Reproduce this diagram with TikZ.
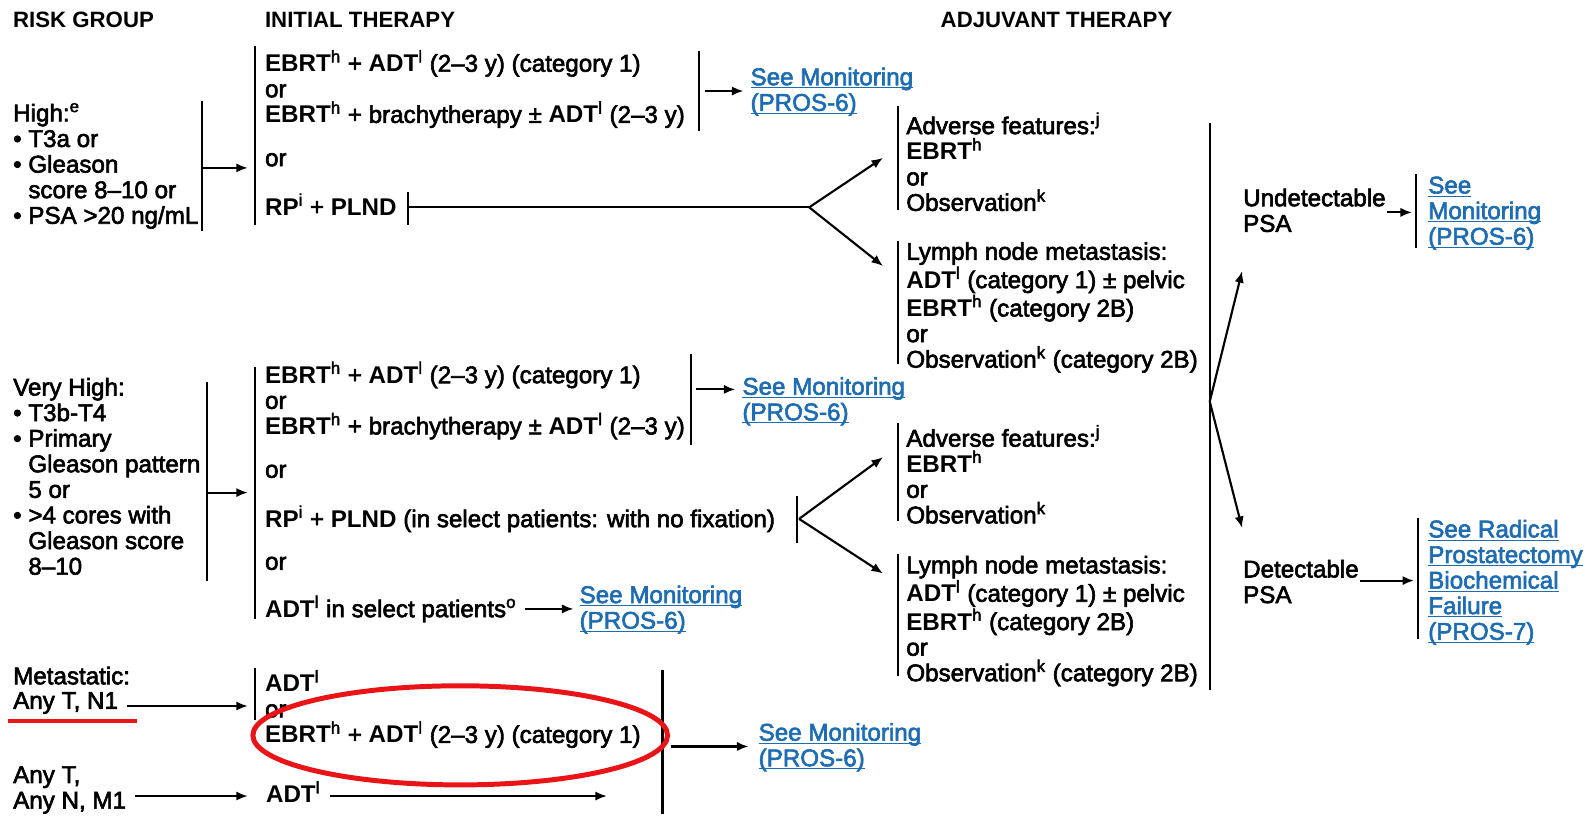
\documentclass[tikz,border=0pt]{standalone}
\usepackage{fontspec}
\setmainfont{Liberation Sans}[UprightFeatures={FakeBold=2.5}]
\usetikzlibrary{arrows.meta,positioning}
\definecolor{linkblue}{RGB}{30,108,178}
\definecolor{markred}{RGB}{232,20,24}
\newcommand{\ebrt}{\textbf{EBRT}\textsuperscript{h}}
\newcommand{\adt}{\textbf{ADT}\textsuperscript{l}}
\newcommand{\lnk}[1]{\textcolor{linkblue}{\underline{\raisebox{0pt}[\height][0pt]{#1}}}}
\newcommand{\bsp}{\phantom{• }}

\begin{document}
\begin{tikzpicture}[x=0.02cm,y=-0.02cm,>={Latex[length=6.5pt,width=5.2pt]},line width=1.2pt,
    txt/.style={anchor=west,align=left,inner sep=0pt,font=\fontsize{13.6}{14.4}\selectfont},
    head/.style={anchor=west,inner sep=0pt,font=\fontsize{12.5}{14}\selectfont\bfseries}]
    \useasboundingbox (0,0) rectangle (1568,807);

    % headers
    \node[head] (hrisk) at (12,20) {RISK GROUP};
    \node[head] (hinit) at (261,20) {INITIAL THERAPY};
    \node[head] (hadj) at (929,20) {ADJUVANT THERAPY};

    % high
    \node[txt] (high) at (12,164) {High:\textsuperscript{e}\\• T3a or\\• Gleason\\\bsp score 8–10 or\\• PSA >20 ng/mL};
    \node[txt] (hebrt) at (261,88) {\ebrt{} + \adt{} (2–3 y) (category 1)\\or\\\ebrt{} + brachytherapy ± \adt{} (2–3 y)};
    \node[txt] (hor) at (261,158) {or};
    \node[txt] (hrp) at (261,202) {\textbf{RP}\textsuperscript{i} + \textbf{PLND}};
    \node[txt] (hmon) at (741,90) {\lnk{See Monitoring}\\\lnk{(PROS-6)}};
    \node[txt] (hadv) at (895,160) {Adverse features:\textsuperscript{j}\\\ebrt\\or\\Observation\textsuperscript{k}};
    \node[txt] (hlym) at (895,304) {Lymph node metastasis:\\\adt{} (category 1) ± pelvic\\\ebrt{} (category 2B)\\or\\Observation\textsuperscript{k} (category 2B)};

    \coordinate (hbar) at (200,166);
    \coordinate (hin) at (252,166);
    \coordinate (hmonbar) at (691,90);
    \coordinate (hrpbar) at (403,205);
    \coordinate (hfork) at (800,205);
    \coordinate (hadvin) at (873,156);
    \coordinate (hlymin) at (873,263);

    \draw (200,100) -- (200,228);
    \draw (252,45) -- (252,222);
    \draw (691,50) -- (691,130);
    \draw (403,190) -- (403,222);
    \draw (888,105) -- (888,208);
    \draw (888,238) -- (888,360);
    \draw[->,shorten >=0.14cm] (hbar) -- (hin);
    \draw[->,shorten <=0.12cm,shorten >=0.12cm] (hmonbar) -- (hmon.west |- hmonbar);
    \draw (hrpbar) -- (hfork);
    \draw[->] (hfork) -- (hadvin);
    \draw[->] (hfork) -- (hlymin);

    % very high
    \node[txt] (vhigh) at (12,471) {Very High:\\• T3b-T4\\• Primary\\\bsp Gleason pattern\\\bsp 5 or\\• >4 cores with\\\bsp Gleason score\\\bsp 8–10};
    \node[txt] (vebrt) at (261,396) {\ebrt{} + \adt{} (2–3 y) (category 1)\\or\\\ebrt{} + brachytherapy ± \adt{} (2–3 y)};
    \node[txt] (vor) at (261,466) {or};
    \node[txt] (vrp) at (261,513) {\textbf{RP}\textsuperscript{i} + \textbf{PLND} (in select patients: with no fixation)};
    \node[txt] (vor2) at (261,557) {or};
    \node[txt] (vadt) at (261,602) {\adt{} in select patients\textsuperscript{o}};
    \node[txt] (vmon) at (733,396) {\lnk{See Monitoring}\\\lnk{(PROS-6)}};
    \node[txt] (vmon2) at (572,602) {\lnk{See Monitoring}\\\lnk{(PROS-6)}};
    \node[txt] (vadv) at (895,469) {Adverse features:\textsuperscript{j}\\\ebrt\\or\\Observation\textsuperscript{k}};
    \node[txt] (vlym) at (895,614) {Lymph node metastasis:\\\adt{} (category 1) ± pelvic\\\ebrt{} (category 2B)\\or\\Observation\textsuperscript{k} (category 2B)};

    \coordinate (vbar) at (205,487);
    \coordinate (vin) at (252,487);
    \coordinate (vmonbar) at (683,385);
    \coordinate (vfork) at (790,513);
    \coordinate (vadvin) at (873,452);
    \coordinate (vlymin) at (873,567);

    \draw (205,378) -- (205,574);
    \draw (252,363) -- (252,612);
    \draw (683,350) -- (683,440);
    \draw (788,490) -- (788,537);
    \draw (888,418) -- (888,515);
    \draw (888,548) -- (888,668);
    \draw[->,shorten >=0.14cm] (vbar) -- (vin);
    \draw[->,shorten <=0.1cm,shorten >=0.12cm] (vmonbar) -- (vmon.west |- vmonbar);
    \draw[->,shorten <=0.14cm,shorten >=0.1cm] (vadt) -- (vmon2);
    \draw[->] (vfork) -- (vadvin);
    \draw[->] (vfork) -- (vlymin);

    % psa outcome
    \node[txt] (undet) at (1228,208) {Undetectable\\PSA};
    \node[txt] (det) at (1228,575) {Detectable\\PSA};
    \node[txt] (undmon) at (1411,210) {\lnk{See}\\\lnk{Monitoring}\\\lnk{(PROS-6)}};
    \node[txt] (detmon) at (1411,575) {\lnk{See Radical}\\\lnk{Prostatectomy}\\\lnk{Biochemical}\\\lnk{Failure}\\\lnk{(PROS-7)}};

    \coordinate (afork) at (1196,397);
    \coordinate (undin) at (1228,268);
    \coordinate (detin) at (1228,522);
    \coordinate (undbar) at (1400,210);
    \coordinate (detbar) at (1402,574);

    \draw (1196,122) -- (1196,682);
    \draw (1400,172) -- (1400,245);
    \draw (1402,512) -- (1402,632);
    \draw[->] (afork) -- (undin);
    \draw[->] (afork) -- (detin);
    \draw[->,shorten >=0.08cm] (undet.east |- undbar) -- (undbar);
    \draw[->,shorten >=0.08cm] (det.east |- detbar) -- (detbar);

    % metastatic
    \node[txt] (meta) at (12,668) {Metastatic:};
    \node[txt] (mn1) at (12,695) {Any T, N1};
    \node[txt] (mm1) at (12,781) {Any T,\\Any N, M1};
    \node[txt] (madt) at (261,701) {\adt\\or\\\ebrt{} + \adt{} (2–3 y) (category 1)};
    \node[txt] (madt2) at (262,783) {\adt};
    \node[txt] (mmon) at (749,738) {\lnk{See Monitoring}\\\lnk{(PROS-6)}};

    \coordinate (mn1in) at (252,698);
    \coordinate (mm1in) at (252,787);
    \coordinate (mbar) at (655,738);
    \coordinate (mend) at (600,787);

    \draw (252,660) -- (252,712);
    \draw (655,662) -- (655,805);
    \draw[->,shorten <=0.16cm,shorten >=0.14cm] (mn1.east |- mn1in) -- (mn1in);
    \draw[->,shorten <=0.16cm,shorten >=0.14cm] (mm1.east |- mm1in) -- (mm1in);
    \draw[->,shorten <=0.16cm] (madt2.east |- mend) -- (mend);
    \draw[->,shorten <=0.16cm,shorten >=0.18cm] (mbar) -- (mmon.west |- mbar);

    % red marks
    \draw[markred,line width=2.2pt] (8,713) -- (135,713);
    \draw[markred,line width=2.8pt] (455,727) ellipse [x radius=205,y radius=49];
\end{tikzpicture}
\end{document}
